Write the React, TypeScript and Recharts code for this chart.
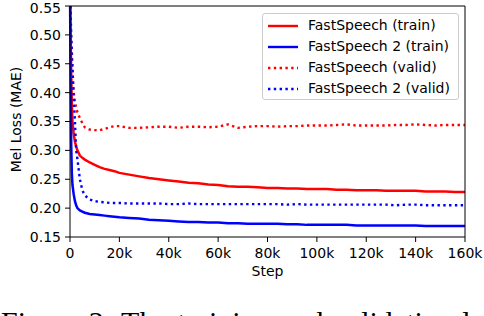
import React from 'react'
import { LineChart, Line, XAxis, YAxis, Legend, ReferenceLine, Label } from 'recharts'

// training steps (x) shared by all four curves
const steps = [
  0, 250, 500, 750, 1000, 1500, 2000, 2500, 3000, 4000, 5000, 6000, 8000, 10000, 12000, 14000, 16000, 18000, 20000,
  24000, 28000, 32000, 36000, 40000, 44000, 48000, 52000, 56000, 60000,
  64000, 68000, 72000, 76000, 80000, 84000, 88000, 92000, 96000, 100000,
  104000, 108000, 112000, 116000, 120000, 124000, 128000, 132000, 136000, 140000,
  144000, 148000, 152000, 156000, 160000,
]

const fastSpeechTrain = [
  0.58, 0.5, 0.43, 0.38, 0.35, 0.328, 0.315, 0.307, 0.3, 0.291, 0.287, 0.284, 0.279, 0.275, 0.271, 0.268, 0.266, 0.264, 0.261,
  0.258, 0.255, 0.252, 0.25, 0.248, 0.246, 0.244, 0.243, 0.241, 0.24,
  0.238, 0.237, 0.237, 0.236, 0.235, 0.235, 0.234, 0.234, 0.233, 0.233,
  0.233, 0.232, 0.232, 0.231, 0.231, 0.231, 0.23, 0.23, 0.23, 0.23,
  0.229, 0.229, 0.229, 0.228, 0.228,
]

const fastSpeech2Train = [
  0.58, 0.42, 0.31, 0.26, 0.24, 0.224, 0.212, 0.205, 0.2, 0.196, 0.194, 0.192, 0.19, 0.189, 0.188, 0.187, 0.186, 0.185, 0.184,
  0.183, 0.182, 0.18, 0.179, 0.178, 0.177, 0.176, 0.176, 0.175, 0.175,
  0.174, 0.174, 0.173, 0.173, 0.173, 0.173, 0.172, 0.172, 0.171, 0.171,
  0.171, 0.171, 0.171, 0.17, 0.17, 0.17, 0.17, 0.17, 0.17, 0.17,
  0.169, 0.169, 0.169, 0.169, 0.169,
]

const fastSpeechValid = [
  0.58, 0.52, 0.48, 0.455, 0.43, 0.4, 0.385, 0.374, 0.366, 0.356, 0.347, 0.34, 0.336, 0.335, 0.335, 0.337, 0.34, 0.342, 0.342,
  0.339, 0.339, 0.34, 0.341, 0.341, 0.339, 0.341, 0.341, 0.34, 0.341,
  0.345, 0.339, 0.341, 0.342, 0.342, 0.341, 0.342, 0.342, 0.343, 0.343,
  0.343, 0.344, 0.345, 0.343, 0.343, 0.343, 0.343, 0.344, 0.344, 0.345,
  0.344, 0.343, 0.344, 0.344, 0.344,
]

const fastSpeech2Valid = [
  0.58, 0.54, 0.5, 0.47, 0.445, 0.39, 0.35, 0.3, 0.285, 0.25, 0.231, 0.222, 0.215, 0.212, 0.211, 0.21, 0.209, 0.209, 0.209,
  0.208, 0.208, 0.208, 0.208, 0.207, 0.207, 0.208, 0.207, 0.207, 0.207,
  0.207, 0.207, 0.207, 0.207, 0.207, 0.207, 0.206, 0.207, 0.206, 0.206,
  0.206, 0.206, 0.206, 0.206, 0.206, 0.206, 0.206, 0.205, 0.206, 0.206,
  0.205, 0.205, 0.205, 0.205, 0.205,
]

const seriesNames = ['FastSpeech (train)', 'FastSpeech 2 (train)', 'FastSpeech (valid)', 'FastSpeech 2 (valid)']
const xTicks = [0, 20000, 40000, 60000, 80000, 100000, 120000, 140000, 160000]
const yTicks = [0.15, 0.2, 0.25, 0.3, 0.35, 0.4, 0.45, 0.5, 0.55]

const data = steps.map((step, i) => ({
  step,
  fsTrain: fastSpeechTrain[i],
  fs2Train: fastSpeech2Train[i],
  fsValid: fastSpeechValid[i],
  fs2Valid: fastSpeech2Valid[i],
}))

const series = [
  { key: 'fsTrain', name: seriesNames[0], color: '#ff0000', dash: undefined },
  { key: 'fs2Train', name: seriesNames[1], color: '#0000ff', dash: undefined },
  { key: 'fsValid', name: seriesNames[2], color: '#ff0000', dash: '2.4 3.4' },
  { key: 'fs2Valid', name: seriesNames[3], color: '#0000ff', dash: '2.4 3.4' },
]

const font = 'DejaVu Sans'

function LossLegend() {
  return (
    <div
      style={{
        boxSizing: 'border-box',
        width: 197,
        height: 87,
        border: '1px solid #cccccc',
        borderRadius: 3,
        background: 'rgba(255,255,255,0.8)',
        paddingTop: 1,
        paddingLeft: 5,
        fontFamily: font,
        fontSize: 14,
        color: '#000',
      }}
    >
      {series.map((s) => (
        <div key={s.key} style={{ display: 'flex', alignItems: 'center', height: 21, lineHeight: '21px' }}>
          <svg width={30} height={4} style={{ marginRight: 10 }}>
            <line x1={0} y1={2} x2={30} y2={2} stroke={s.color} strokeWidth={2.4} strokeDasharray={s.dash} />
          </svg>
          <span>{s.name}</span>
        </div>
      ))}
    </div>
  )
}

const YTitle = (props: any) => {
  const vb = props.viewBox
  const cx = vb.x + 16
  const cy = vb.y + vb.height / 2 - 2
  return (
    <text
      x={cx}
      y={cy}
      transform={`rotate(-90, ${cx}, ${cy})`}
      textAnchor="middle"
      dominantBaseline="central"
      fontSize={14}
      fontFamily={font}
      fill="#000"
    >
      Mel Loss (MAE)
    </text>
  )
}

export default function App() {
  return (
    <div style={{ position: 'absolute', left: 0, top: 0, width: 484, height: 316, overflow: 'hidden', background: '#fff' }}>
      <LineChart
        width={484}
        height={316}
        data={data}
        margin={{ top: 6, right: 19, left: 0, bottom: 49 }}
        style={{ fontFamily: font }}
      >
        <XAxis
          dataKey="step"
          type="number"
          domain={[0, 160000]}
          ticks={xTicks}
          tickFormatter={(v: number) => (v === 0 ? '0' : `${v / 1000}k`)}
          height={30}
          tickSize={5}
          tickMargin={6}
          stroke="#000"
          tick={{ fill: '#000', fontSize: 14 }}
        >
          <Label value="Step" position="bottom" offset={-1} fill="#000" fontSize={14} />
        </XAxis>
        <YAxis
          type="number"
          domain={[0.15, 0.55]}
          ticks={yTicks}
          allowDataOverflow
          tickFormatter={(v: number) => v.toFixed(2)}
          width={70}
          tickSize={5}
          tickMargin={4}
          stroke="#000"
          tick={{ fill: '#000', fontSize: 14 }}
        >
          <Label content={YTitle} />
        </YAxis>
        {series.map((s) => (
          <Line
            key={s.key}
            type="linear"
            dataKey={s.key}
            name={s.name}
            stroke={s.color}
            strokeWidth={s.dash ? 2.4 : 2.5}
            strokeDasharray={s.dash}
            dot={false}
            activeDot={false}
            isAnimationActive={false}
          />
        ))}
        <ReferenceLine y={0.55} stroke="#000" strokeWidth={1} />
        <ReferenceLine x={160000} stroke="#000" strokeWidth={1} />
        <Legend
          layout="horizontal"
          verticalAlign="middle"
          align="center"
          content={() => <LossLegend />}
          wrapperStyle={{ left: 262, top: 13, width: 197, height: 87 }}
        />
      </LineChart>
      <div
        style={{
          position: 'absolute',
          left: 1,
          top: 306.5,
          fontFamily: 'Liberation Serif',
          fontSize: 30,
          lineHeight: '30px',
          whiteSpace: 'nowrap',
          wordSpacing: 2,
          color: '#000',
        }}
      >
        Figure 2: The training and validation loss
      </div>
    </div>
  )
}
